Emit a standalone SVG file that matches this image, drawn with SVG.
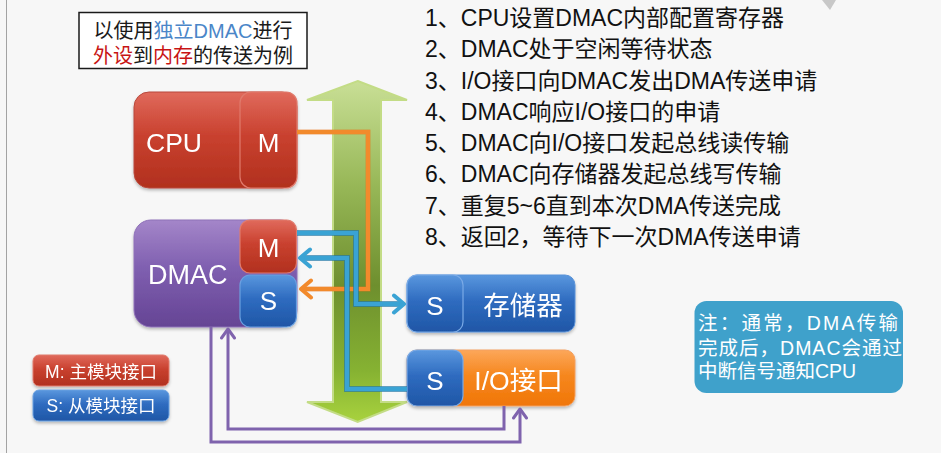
<svg xmlns="http://www.w3.org/2000/svg" width="941" height="453" viewBox="0 0 941 453">
<defs>
<style>
.t{font-family:"Liberation Sans","Noto Sans CJK SC",sans-serif;}
.w{fill:#ffffff;}
.step{font-size:23px;fill:#111111;}
.blk{font-size:26px;}
.ln{fill:none;stroke-linejoin:miter;}
.blue{stroke:#3aa3d4;stroke-width:4;}
.blueo{stroke:#2379a8;stroke-width:6;}
.org{stroke:#f28a2c;stroke-width:4;}
.orgo{stroke:#e8761a;stroke-width:5;}
.pur{stroke:#7f63ad;stroke-width:3;}
</style>
<linearGradient id="gRed" x1="0" y1="0" x2="0" y2="1"><stop offset="0" stop-color="#e06a5c"/><stop offset="0.45" stop-color="#c9412f"/><stop offset="1" stop-color="#b1301e"/></linearGradient>
<linearGradient id="gPur" x1="0" y1="0" x2="0" y2="1"><stop offset="0" stop-color="#a486c9"/><stop offset="0.45" stop-color="#7f5fb0"/><stop offset="1" stop-color="#654494"/></linearGradient>
<linearGradient id="gBlue" x1="0" y1="0" x2="0" y2="1"><stop offset="0" stop-color="#5a97de"/><stop offset="0.45" stop-color="#2f6cc0"/><stop offset="1" stop-color="#1f56a6"/></linearGradient>
<linearGradient id="gOrg" x1="0" y1="0" x2="0" y2="1"><stop offset="0" stop-color="#fca75a"/><stop offset="0.45" stop-color="#f6871e"/><stop offset="1" stop-color="#f07608"/></linearGradient>
<linearGradient id="gGreen" gradientUnits="userSpaceOnUse" x1="0" y1="81" x2="0" y2="422"><stop offset="0" stop-color="#c9df96"/><stop offset="0.3" stop-color="#98b858"/><stop offset="0.6" stop-color="#6e8f2e"/><stop offset="0.85" stop-color="#86b232"/><stop offset="1" stop-color="#a8d23e"/></linearGradient>
<filter id="sh" x="-10%" y="-10%" width="120%" height="130%"><feDropShadow dx="0" dy="2" stdDeviation="1.5" flood-color="#000" flood-opacity="0.25"/></filter>
<marker id="mB" viewBox="0 0 16 22" refX="13" refY="11" markerWidth="16" markerHeight="22" orient="auto" markerUnits="userSpaceOnUse"><path d="M3,2.5 L13,11 L3,19.5" fill="none" stroke="#3aa3d4" stroke-width="4" stroke-linecap="round" stroke-linejoin="round"/></marker>
<marker id="mO" viewBox="0 0 16 22" refX="13" refY="11" markerWidth="16" markerHeight="22" orient="auto" markerUnits="userSpaceOnUse"><path d="M3,2.5 L13,11 L3,19.5" fill="none" stroke="#f28a2c" stroke-width="4" stroke-linecap="round" stroke-linejoin="round"/></marker>
<marker id="mP" viewBox="0 0 14 16" refX="11" refY="8" markerWidth="14" markerHeight="16" orient="auto" markerUnits="userSpaceOnUse"><path d="M2,1.5 L11,8 L2,14.5" fill="none" stroke="#7f63ad" stroke-width="3" stroke-linecap="round" stroke-linejoin="round"/></marker>
</defs>
<rect x="0" y="0" width="941" height="453" fill="#f7f7f7"/>
<line x1="6.5" y1="0" x2="6.5" y2="453" stroke="#a3a3a3" stroke-width="1"/>
<polygon points="822,0 836,0 830,10" fill="#c8c8c8"/>

<g id="title">
<rect x="79" y="12.5" width="228" height="56" fill="#ffffff" stroke="#1a1a1a" stroke-width="1.5"/>
<text class="t" x="193" y="37.5" font-size="20" text-anchor="middle" fill="#1a1a1a">以使用<tspan fill="#4a86c8">独立DMAC</tspan>进行</text>
<text class="t" x="193" y="62.5" font-size="20" text-anchor="middle" fill="#1a1a1a"><tspan fill="#c81414">外设</tspan>到<tspan fill="#c81414">内存</tspan>的传送为例</text>
</g>

<g id="bus">
<polygon points="357.7,81 407,100 381,100 381,402 407,402 357.7,422 307,402 333,402 333,100 307,100" fill="url(#gGreen)" stroke="#c3dc86" stroke-width="2"/>
</g>

<g id="cpu" filter="url(#sh)">
<rect x="134" y="92" width="163" height="96" rx="15" fill="url(#gRed)" stroke="#b8493c" stroke-width="1"/>
<rect x="240" y="92" width="57" height="96" rx="11" fill="url(#gRed)" stroke="#e07a6c" stroke-width="1.2"/>
<text class="t w" x="146" y="151.5" font-size="26.5">CPU</text>
<text class="t w blk" x="268.5" y="151.5" text-anchor="middle">M</text>
</g>

<g id="dmac" filter="url(#sh)">
<rect x="134" y="220" width="163" height="107" rx="17" fill="url(#gPur)" stroke="#8e70b8" stroke-width="1"/>
<rect x="240" y="220" width="56.5" height="53" rx="10" fill="url(#gRed)" stroke="#e07a6c" stroke-width="1.2"/>
<rect x="240" y="275" width="56.5" height="52" rx="10" fill="url(#gBlue)" stroke="#6aa0e0" stroke-width="1.2"/>
<text class="t w" x="148" y="284" font-size="27">DMAC</text>
<text class="t w blk" x="268.5" y="256.5" text-anchor="middle">M</text>
<text class="t w blk" x="268.5" y="309.5" text-anchor="middle">S</text>
</g>

<g id="memory" filter="url(#sh)">
<rect x="407" y="275" width="168" height="57" rx="10" fill="url(#gBlue)" stroke="#5a92d8" stroke-width="1"/>
<rect x="407" y="275" width="56" height="57" rx="10" fill="url(#gBlue)" stroke="#7aaae6" stroke-width="1.2"/>
<text class="t w blk" x="435" y="314.5" text-anchor="middle">S</text>
<text class="t w" x="523" y="314.5" font-size="26.5" text-anchor="middle">存储器</text>
</g>

<g id="io" filter="url(#sh)">
<rect x="407" y="350" width="168" height="56" rx="10" fill="url(#gOrg)" stroke="#f3a060" stroke-width="1"/>
<rect x="407" y="350" width="56" height="56" rx="10" fill="url(#gBlue)" stroke="#7aaae6" stroke-width="1.2"/>
<text class="t w blk" x="435" y="389.5" text-anchor="middle">S</text>
<text class="t w" x="518.5" y="389.5" font-size="26.5" text-anchor="middle">I/O接口</text>
</g>

<g id="legend" filter="url(#sh)">
<rect x="33" y="355" width="136" height="31" rx="6" fill="url(#gRed)" stroke="#e07a6c" stroke-width="1"/>
<rect x="33" y="390" width="136" height="31" rx="6" fill="url(#gBlue)" stroke="#6aa0e0" stroke-width="1"/>
<text class="t w" x="101" y="377.5" font-size="17.5" text-anchor="middle">M: 主模块接口</text>
<text class="t w" x="101" y="412" font-size="17.5" text-anchor="middle">S: 从模块接口</text>
</g>

<g id="connectors">
<polyline class="ln orgo" points="297,132 368,132 368,289 303,289" stroke-opacity="0.6"/>
<polyline class="ln org" points="297,132 368,132 368,289 301,289" marker-end="url(#mO)"/>
<polyline class="ln blueo" points="297,233 356,233 356,304 400,304" stroke-opacity="0.7"/>
<polyline class="ln blue" points="297,233 356,233 356,304 404,304" marker-end="url(#mB)"/>
<polyline class="ln blueo" points="407,389 347,389 347,258 304,258" stroke-opacity="0.7"/>
<polyline class="ln blue" points="407,389 347,389 347,258 300,258" marker-end="url(#mB)"/>
<polyline class="ln pur" points="211,327 211,442 520,442 520,409" marker-end="url(#mP)"/>
<polyline class="ln pur" points="504,406 504,429 228,429 228,329" marker-end="url(#mP)"/>
</g>

<g id="steps">
<text class="t step" x="425" y="26">1、CPU设置DMAC内部配置寄存器</text>
<text class="t step" x="425" y="57">2、DMAC处于空闲等待状态</text>
<text class="t step" x="425" y="88.5">3、I/O接口向DMAC发出DMA传送申请</text>
<text class="t step" x="425" y="119.5">4、DMAC响应I/O接口的申请</text>
<text class="t step" x="425" y="151">5、DMAC向I/O接口发起总线读传输</text>
<text class="t step" x="425" y="182">6、DMAC向存储器发起总线写传输</text>
<text class="t step" x="425" y="213.5">7、重复5~6直到本次DMA传送完成</text>
<text class="t step" x="425" y="244.5">8、返回2，等待下一次DMA传送申请</text>
</g>

<g id="note">
<rect x="694.5" y="301" width="208.5" height="92" rx="12" fill="#3fa1cb"/>
<text class="t w" x="698" y="329.5" font-size="19.5" textLength="200" lengthAdjust="spacing">注：通常，DMA传输</text>
<text class="t w" x="698" y="355" font-size="19.5" textLength="204" lengthAdjust="spacing">完成后，DMAC会通过</text>
<text class="t w" x="698" y="377.5" font-size="19.5">中断信号通知CPU</text>
</g>
</svg>
